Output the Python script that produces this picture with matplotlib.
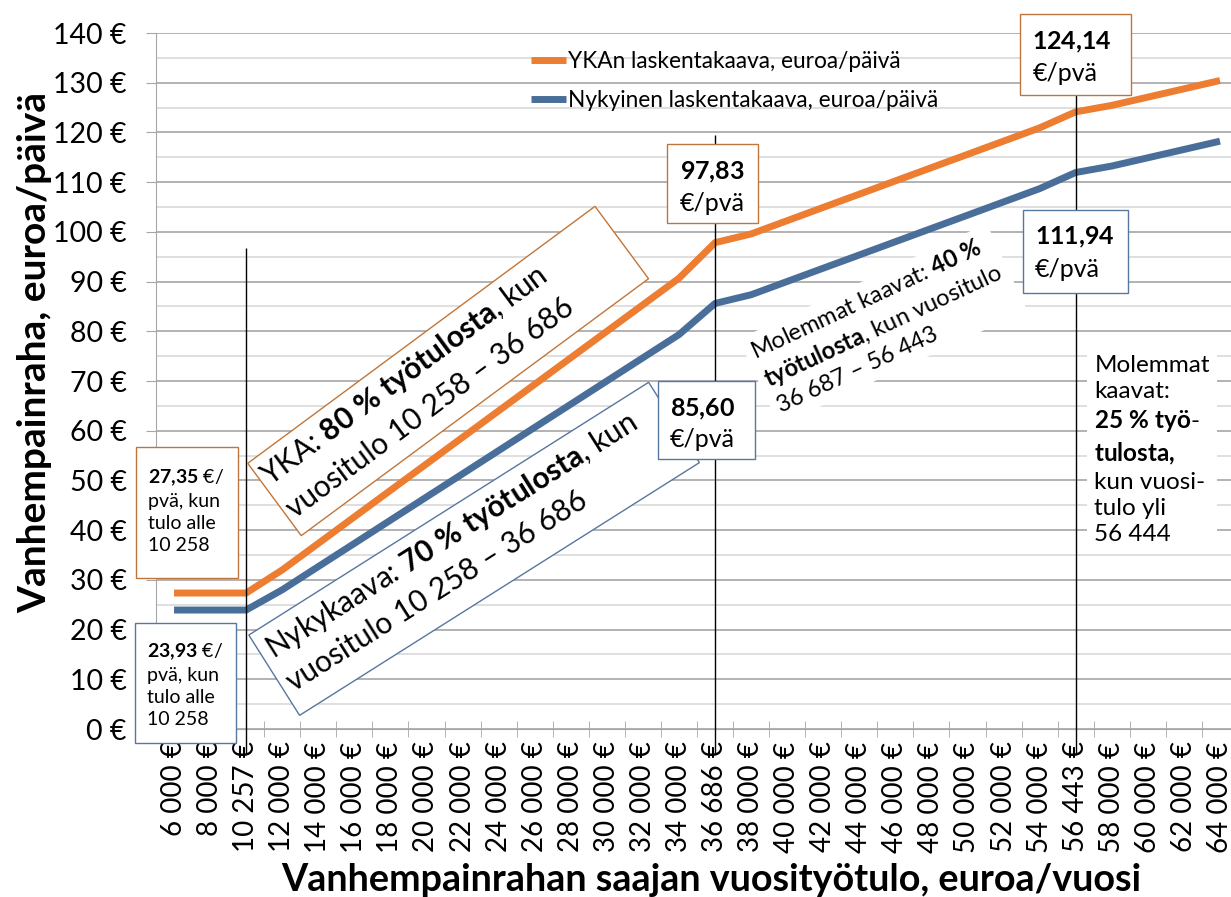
import numpy as np
import matplotlib
matplotlib.use("Agg")
from matplotlib import pyplot as plt
from matplotlib.patches import Rectangle
from matplotlib.transforms import Affine2D, ScaledTranslation

plt.rcParams['font.family'] = ['Lato', 'DejaVu Sans']
plt.rcParams['mathtext.fontset'] = 'custom'
plt.rcParams['mathtext.rm'] = 'Lato'
plt.rcParams['mathtext.bf'] = 'Lato:bold'
plt.rcParams['mathtext.it'] = 'Lato:italic'
plt.rcParams['mathtext.default'] = 'regular'

# annual income categories (x axis)
incomes = ["6 000 €", "8 000 €", "10 257 €", "12 000 €", "14 000 €", "16 000 €",
           "18 000 €", "20 000 €", "22 000 €", "24 000 €", "26 000 €", "28 000 €",
           "30 000 €", "32 000 €", "34 000 €", "36 686 €", "38 000 €", "40 000 €",
           "42 000 €", "44 000 €", "46 000 €", "48 000 €", "50 000 €", "52 000 €",
           "54 000 €", "56 443 €", "58 000 €", "60 000 €", "62 000 €", "64 000 €"]

# euros per day
yka = [27.35, 27.35, 27.35, 32.00, 37.33, 42.67, 48.00, 53.33, 58.67, 64.00,
       69.33, 74.67, 80.00, 85.33, 90.67, 97.83, 99.58, 102.25, 104.92, 107.58,
       110.25, 112.92, 115.58, 118.25, 120.92, 124.14, 125.44, 127.10, 128.77, 130.44]
nyky = [23.93, 23.93, 23.93, 28.00, 32.67, 37.33, 42.00, 46.67, 51.33, 56.00,
        60.67, 65.33, 70.00, 74.67, 79.33, 85.60, 87.35, 90.02, 92.69, 95.35,
        98.02, 100.69, 103.35, 106.02, 108.69, 111.94, 113.24, 114.90, 116.57, 118.24]

# breakpoints (index into incomes, top of the marker line)
breaks = [2, 15, 25]
break_tops = [96.8, 119.5, 128]

orange = "#ED7D31"
blue = "#4A6E9A"
orange_edge = "#C0763A"
blue_edge = "#56779E"

fig = plt.figure(figsize=(12.31, 8.97), dpi=100)
ax = fig.add_axes([156 / 1231, 168 / 897, 1082 / 1231, 696 / 897])

x = np.arange(len(incomes))
ax.plot(x, yka, color=orange, lw=5, solid_capstyle="butt", zorder=3,
        label="YKAn laskentakaava, euroa/päivä")
ax.plot(x, nyky, color=blue, lw=5, solid_capstyle="butt", zorder=3,
        label="Nykyinen laskentakaava, euroa/päivä")

for b, top in zip(breaks, break_tops):
    ax.vlines(b, -4.8, top, color="black", lw=1, zorder=4, clip_on=False)

ax.set_xlim(-0.5, len(incomes) - 0.5)
ax.set_ylim(0, 140)
ax.set_xticks(x)
ax.set_xticklabels(incomes, rotation=90, fontsize=20)
ax.set_xticks(np.arange(-0.5, len(incomes), 1), minor=True)
ax.tick_params(axis="x", which="major", length=0, pad=9)
ax.tick_params(axis="x", which="minor", direction="inout", length=11, color="#a6a6a6")

ax.set_yticks(range(0, 141, 10))
ax.set_yticklabels([f"{v} €" for v in range(0, 141, 10)], fontsize=20.5)
ax.set_yticks(range(5, 140, 10), minor=True)
ax.tick_params(axis="y", which="major", length=7, color="#a6a6a6", pad=14)
ax.tick_params(axis="y", which="minor", length=0)
ax.yaxis.grid(True, which="major", color="#a6a6a6", lw=1.2)
ax.yaxis.grid(True, which="minor", color="#d9d9d9", lw=1.2)
ax.set_axisbelow(True)
for s in ["top", "right"]:
    ax.spines[s].set_visible(False)
for s in ["left", "bottom"]:
    ax.spines[s].set_color("#a6a6a6")

fig.text(35 / 1231, 1 - 352 / 897, "Vanhempainraha, euroa/päivä", rotation=90,
         fontsize=28, fontweight="bold", ha="center", va="center")
fig.text(711 / 1231, 1 - 891 / 897, "Vanhempainrahan saajan vuosityötulo, euroa/vuosi",
         fontsize=27.2, fontweight="bold", ha="center", va="baseline")

ax.legend(loc="upper left", bbox_to_anchor=(531 / 1231, 1 - 51 / 897),
          bbox_transform=fig.transFigure, frameon=False, fontsize=16.3,
          handlelength=1.55, handletextpad=0.1, labelspacing=0.78,
          borderaxespad=0, borderpad=0)


def rect(cx, cy, w, h, ang, edge, z=5):
    # white box, size in pixels, centred on a data point
    tr = Affine2D().rotate_deg(ang) + ScaledTranslation(cx, cy, ax.transData)
    ax.add_patch(Rectangle((-w / 2, -h / 2), w, h, transform=tr, fc="white",
                           ec=edge, lw=1, zorder=z, clip_on=False))


# slanted boxes (under the value boxes)
rect(7.60, 72.01, 432, 90, 36.5, orange_edge, 4.8)
ax.text(6.73, 68.06, "YKA: $\\mathbf{80\\ \\%\\ työtulosta}$, kun\nvuositulo 10 258 – 36 686",
        fontsize=21.5, rotation=36.5, rotation_mode="anchor", ha="center", va="center",
        multialignment="left", zorder=4.9, linespacing=1.5)
rect(8.32, 36.24, 473, 95, 32.3, blue_edge, 4.8)
ax.text(7.97, 35.76, "Nykykaava: $\\mathbf{70\\ \\%\\ työtulosta}$, kun\nvuositulo 10 258 – 36 686",
        fontsize=21.5, rotation=32.3, rotation_mode="anchor", ha="center", va="center",
        multialignment="left", zorder=4.9, linespacing=1.38)

# value boxes
rect(0.366, 43.56, 102, 131, 0, orange_edge)
ax.text(-0.715, 43.88, "$\\mathbf{27{,}35}$ €/\npvä, kun\ntulo alle\n10 258", fontsize=14,
        ha="left", va="center", linespacing=1.35, zorder=6)
rect(0.324, 9.28, 101, 120, 0, blue_edge)
ax.text(-0.742, 8.85, "$\\mathbf{23{,}93}$ €/\npvä, kun\ntulo alle\n10 258", fontsize=14,
        ha="left", va="center", linespacing=1.35, zorder=6)

rect(14.93, 109.78, 91, 79, 0, orange_edge)
ax.text(14.02, 108.97, "$\\mathbf{97{,}83}$\n€/pvä", fontsize=18, ha="left", va="center",
        linespacing=1.35, zorder=6)
rect(14.76, 62.07, 97, 78, 0, blue_edge)
ax.text(13.75, 61.37, "$\\mathbf{85{,}60}$\n€/pvä", fontsize=18, ha="left", va="center",
        linespacing=1.35, zorder=6)
rect(25.00, 135.71, 111, 81, 0, orange_edge)
ax.text(23.80, 135.11, "$\\mathbf{124{,}14}$\n€/pvä", fontsize=18, ha="left", va="center",
        linespacing=1.4, zorder=6)
rect(24.99, 96.10, 105, 83, 0, blue_edge)
ax.text(23.86, 95.77, "$\\mathbf{111{,}94}$\n€/pvä", fontsize=18, ha="left", va="center",
        linespacing=1.4, zorder=6)

ax.text(16.39, 70.3, "Molemmat kaavat: $\\mathbf{40\\ \\%}$\n$\\mathbf{työtulosta}$, kun vuositulo\n36 687 – 56 443",
        fontsize=17, rotation=25, rotation_mode="anchor", ha="left", va="center",
        zorder=2.5, linespacing=1.3,
        bbox=dict(boxstyle="square,pad=0.3", fc="white", ec="none"))

ax.text(25.52, 56.1, "Molemmat\nkaavat:\n$\\mathbf{25\\ \\%\\ työ}$-\n$\\mathbf{tulosta{,}}$\nkun vuosi-\ntulo yli\n56 444",
        fontsize=17.5, ha="left", va="center", zorder=2.5, linespacing=1.3,
        bbox=dict(boxstyle="square,pad=0.3", fc="white", ec="none"))

fig.savefig("out.png", dpi=100)
